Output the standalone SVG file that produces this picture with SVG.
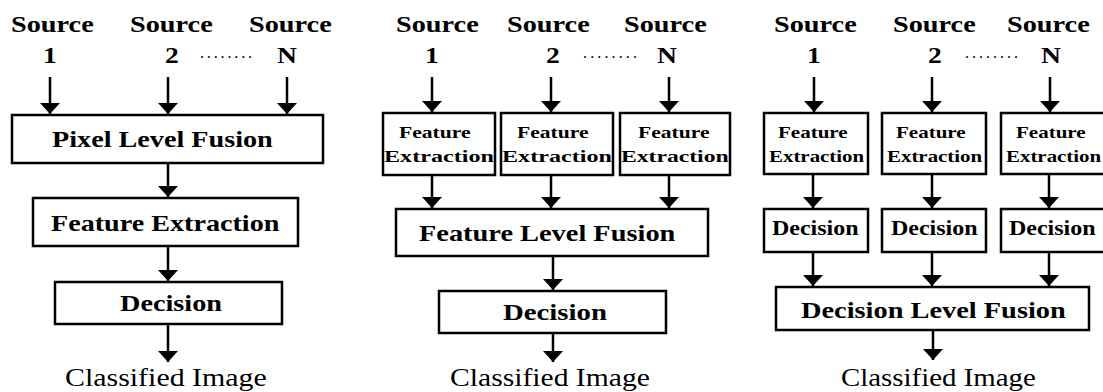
<svg xmlns="http://www.w3.org/2000/svg" width="1103" height="392" viewBox="0 0 1103 392">
  <style>
    .box { fill: #ffffff; stroke: #000000; stroke-width: 2.5; }
    .wire { fill: none; stroke: #000000; stroke-width: 2.5; marker-end: url(#head); }
    text { fill: #000000; font-family: "Liberation Serif", "Times New Roman", serif; }
    .src { font-size: 23px; font-weight: bold; }
    .num { font-size: 23px; font-weight: bold; text-anchor: middle; }
    .big { font-size: 24px; font-weight: bold; }
    .small { font-size: 17px; font-weight: bold; }
    .mid { font-size: 20px; font-weight: bold; }
    .out { font-size: 26px; }
    .dots { font-size: 16px; }
  </style>
  <defs>
    <marker id="head" markerUnits="userSpaceOnUse" markerWidth="12" markerHeight="22" viewBox="0 -11 12 22" refX="11" refY="0" orient="auto">
      <path d="M0,-10 L11,0 L0,10 z" fill="#000000"/>
    </marker>
  </defs>
  <rect width="1103" height="392" fill="#ffffff"/>

  <!-- connectors -->
  <g id="connectors">
    <!-- pixel level column -->
    <line class="wire" x1="50" y1="77" x2="50" y2="114"/>
    <line class="wire" x1="168" y1="77" x2="168" y2="114"/>
    <line class="wire" x1="287" y1="77" x2="287" y2="114"/>
    <line class="wire" x1="168" y1="163" x2="168" y2="197"/>
    <line class="wire" x1="168" y1="246" x2="168" y2="281"/>
    <line class="wire" x1="168" y1="324" x2="168" y2="362"/>
    <!-- feature level column -->
    <line class="wire" x1="432" y1="77" x2="432" y2="112"/>
    <line class="wire" x1="551" y1="77" x2="551" y2="112"/>
    <line class="wire" x1="669" y1="77" x2="669" y2="112"/>
    <line class="wire" x1="432" y1="175" x2="432" y2="208"/>
    <line class="wire" x1="551" y1="175" x2="551" y2="208"/>
    <line class="wire" x1="669" y1="175" x2="669" y2="208"/>
    <line class="wire" x1="553" y1="256" x2="553" y2="290"/>
    <line class="wire" x1="553" y1="333" x2="553" y2="362"/>
    <!-- decision level column -->
    <line class="wire" x1="814" y1="77" x2="814" y2="112"/>
    <line class="wire" x1="932" y1="77" x2="932" y2="112"/>
    <line class="wire" x1="1050" y1="77" x2="1050" y2="112"/>
    <line class="wire" x1="813" y1="174" x2="813" y2="208"/>
    <line class="wire" x1="932" y1="174" x2="932" y2="208"/>
    <line class="wire" x1="1049" y1="174" x2="1049" y2="208"/>
    <line class="wire" x1="813" y1="252" x2="813" y2="286"/>
    <line class="wire" x1="932" y1="252" x2="932" y2="286"/>
    <line class="wire" x1="1049" y1="252" x2="1049" y2="286"/>
    <line class="wire" x1="933" y1="330" x2="933" y2="360"/>
  </g>

  <!-- source labels (type is widened horizontally with a scale) -->
  <g id="sources-pixel">
    <text class="src" transform="matrix(1.23,0,0,1,11,32)">Source</text>
    <text class="src" transform="matrix(1.23,0,0,1,130,32)">Source</text>
    <text class="src" transform="matrix(1.23,0,0,1,249,32)">Source</text>
    <text class="num" transform="matrix(1.2,0,0,1,50,63)">1</text>
    <text class="num" transform="matrix(1.2,0,0,1,172,63)">2</text>
    <text class="dots" x="200" y="58" textLength="52" lengthAdjust="spacing">........</text>
    <text class="num" transform="matrix(1.2,0,0,1,287,63)">N</text>
  </g>
  <g id="sources-feature">
    <text class="src" transform="matrix(1.23,0,0,1,396,32)">Source</text>
    <text class="src" transform="matrix(1.23,0,0,1,507,32)">Source</text>
    <text class="src" transform="matrix(1.23,0,0,1,624,32)">Source</text>
    <text class="num" transform="matrix(1.2,0,0,1,432,63)">1</text>
    <text class="num" transform="matrix(1.2,0,0,1,553,63)">2</text>
    <text class="dots" x="583" y="58" textLength="54" lengthAdjust="spacing">........</text>
    <text class="num" transform="matrix(1.2,0,0,1,667,63)">N</text>
  </g>
  <g id="sources-decision">
    <text class="src" transform="matrix(1.23,0,0,1,774,32)">Source</text>
    <text class="src" transform="matrix(1.23,0,0,1,893,32)">Source</text>
    <text class="src" transform="matrix(1.23,0,0,1,1007,32)">Source</text>
    <text class="num" transform="matrix(1.2,0,0,1,814,63)">1</text>
    <text class="num" transform="matrix(1.2,0,0,1,935,63)">2</text>
    <text class="dots" x="965" y="58" textLength="53" lengthAdjust="spacing">........</text>
    <text class="num" transform="matrix(1.2,0,0,1,1051,63)">N</text>
  </g>

  <!-- pixel level fusion column -->
  <g id="pixel-fusion">
    <rect class="box" x="12" y="115" width="311" height="48"/>
    <text class="big" transform="matrix(1.175,0,0,1,52,147)">Pixel Level Fusion</text>
  </g>
  <g id="pixel-feature">
    <rect class="box" x="33" y="198" width="265" height="48"/>
    <text class="big" transform="matrix(1.173,0,0,1,51,231)">Feature Extraction</text>
  </g>
  <g id="pixel-decision">
    <rect class="box" x="55" y="282" width="227" height="42"/>
    <text class="big" transform="matrix(1.177,0,0,1,120,311)">Decision</text>
  </g>
  <g id="pixel-output">
    <text class="out" transform="matrix(1.151,0,0,1,65,386)">Classified Image</text>
  </g>

  <!-- feature level fusion column -->
  <g id="feature-extract-1">
    <rect class="box" x="383" y="113" width="112" height="62"/>
    <text class="small" transform="matrix(1.27,0,0,1,399,138)">Feature</text>
    <text class="small" transform="matrix(1.42,0,0,1,384,162)">Extraction</text>
  </g>
  <g id="feature-extract-2">
    <rect class="box" x="501" y="113" width="112" height="62"/>
    <text class="small" transform="matrix(1.27,0,0,1,517,138)">Feature</text>
    <text class="small" transform="matrix(1.42,0,0,1,502,162)">Extraction</text>
  </g>
  <g id="feature-extract-3">
    <rect class="box" x="620" y="113" width="110" height="62"/>
    <text class="small" transform="matrix(1.27,0,0,1,638,138)">Feature</text>
    <text class="small" transform="matrix(1.39,0,0,1,621,162)">Extraction</text>
  </g>
  <g id="feature-fusion">
    <rect class="box" x="396" y="209" width="312" height="47"/>
    <text class="big" transform="matrix(1.183,0,0,1,419,241)">Feature Level Fusion</text>
  </g>
  <g id="feature-decision">
    <rect class="box" x="439" y="291" width="227" height="42"/>
    <text class="big" transform="matrix(1.2,0,0,1,503,320)">Decision</text>
  </g>
  <g id="feature-output">
    <text class="out" transform="matrix(1.14,0,0,1,450,386)">Classified Image</text>
  </g>

  <!-- decision level fusion column -->
  <g id="decision-extract-1">
    <rect class="box" x="764" y="113" width="104" height="61"/>
    <text class="small" transform="matrix(1.237,0,0,1,778,138)">Feature</text>
    <text class="small" transform="matrix(1.23,0,0,1,769,162)">Extraction</text>
  </g>
  <g id="decision-extract-2">
    <rect class="box" x="882" y="113" width="104" height="61"/>
    <text class="small" transform="matrix(1.237,0,0,1,896,138)">Feature</text>
    <text class="small" transform="matrix(1.23,0,0,1,887,162)">Extraction</text>
  </g>
  <g id="decision-extract-3">
    <rect class="box" x="1001" y="113" width="106" height="61"/>
    <text class="small" transform="matrix(1.237,0,0,1,1016,138)">Feature</text>
    <text class="small" transform="matrix(1.23,0,0,1,1006,162)">Extraction</text>
  </g>
  <g id="decision-1">
    <rect class="box" x="764" y="209" width="104" height="43"/>
    <text class="mid" transform="matrix(1.2,0,0,1,772,235)">Decision</text>
  </g>
  <g id="decision-2">
    <rect class="box" x="882" y="209" width="104" height="43"/>
    <text class="mid" transform="matrix(1.2,0,0,1,891,235)">Decision</text>
  </g>
  <g id="decision-3">
    <rect class="box" x="1001" y="209" width="106" height="43"/>
    <text class="mid" transform="matrix(1.2,0,0,1,1009,235)">Decision</text>
  </g>
  <g id="decision-fusion">
    <rect class="box" x="776" y="287" width="313" height="43"/>
    <text class="big" transform="matrix(1.183,0,0,1,801,318)">Decision Level Fusion</text>
  </g>
  <g id="decision-output">
    <text class="out" transform="matrix(1.111,0,0,1,841,386)">Classified Image</text>
  </g>
</svg>
